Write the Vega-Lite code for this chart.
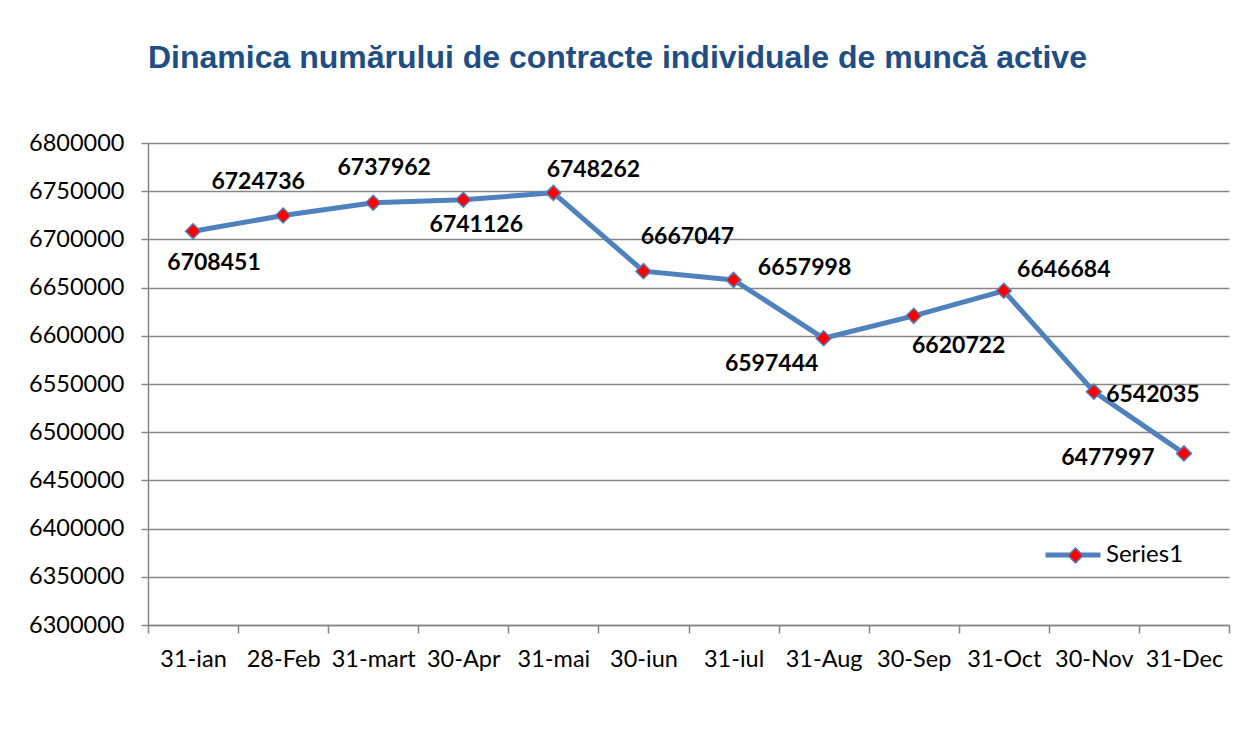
{
  "$schema": "https://vega.github.io/schema/vega-lite/v6.json",
  "autosize": {"type": "none"},
  "width": 1081,
  "height": 482,
  "padding": {"left": 148, "top": 143, "right": 7, "bottom": 104},
  "background": "white",
  "config": {
    "view": {"stroke": null},
    "font": "Lato",
    "legend": {"padding": 0}
  },
  "title": {
    "text": "Dinamica numărului de contracte individuale de muncă active",
    "anchor": "start",
    "frame": "group",
    "font": "Liberation Sans",
    "fontSize": 32,
    "fontWeight": "bold",
    "color": "#1F4E85",
    "offset": 56
  },
  "data": {
    "values": [
      {"m": "31-ian", "v": 6708451, "s": "Series1"},
      {"m": "28-Feb", "v": 6724736, "s": "Series1"},
      {"m": "31-mart", "v": 6737962, "s": "Series1"},
      {"m": "30-Apr", "v": 6741126, "s": "Series1"},
      {"m": "31-mai", "v": 6748262, "s": "Series1"},
      {"m": "30-iun", "v": 6667047, "s": "Series1"},
      {"m": "31-iul", "v": 6657998, "s": "Series1"},
      {"m": "31-Aug", "v": 6597444, "s": "Series1"},
      {"m": "30-Sep", "v": 6620722, "s": "Series1"},
      {"m": "31-Oct", "v": 6646684, "s": "Series1"},
      {"m": "30-Nov", "v": 6542035, "s": "Series1"},
      {"m": "31-Dec", "v": 6477997, "s": "Series1"}
    ]
  },
  "encoding": {
    "x": {
      "field": "m", "type": "ordinal", "sort": null,
      "scale": {"type": "band", "paddingInner": 0, "paddingOuter": 0},
      "axis": {
        "title": null, "labelAngle": 0, "tickBand": "extent",
        "labelFont": "Lato", "labelFontSize": 23.5, "labelColor": "black",
        "labelPadding": 14, "tickSize": 8, "tickColor": "#868686", "tickWidth": 1.5,
        "domainColor": "#868686", "domainWidth": 1.5, "grid": false
      }
    },
    "y": {
      "field": "v", "type": "quantitative",
      "scale": {"domain": [6300000, 6800000], "nice": false, "zero": false},
      "axis": {
        "title": null, "format": "d",
        "values": [6300000, 6350000, 6400000, 6450000, 6500000, 6550000, 6600000, 6650000, 6700000, 6750000, 6800000],
        "labelFont": "Lato", "labelFontSize": 23.5, "labelColor": "black",
        "labelPadding": 17, "tickSize": 7, "tickColor": "#868686", "tickWidth": 1.5,
        "domainColor": "#868686", "domainWidth": 1.5,
        "grid": true, "gridColor": "#868686", "gridWidth": 1.5
      }
    }
  },
  "layer": [
    {
      "mark": {"type": "line", "strokeWidth": 5},
      "encoding": {
        "color": {
          "field": "s", "type": "nominal",
          "scale": {"range": ["#4F81BD"]},
          "legend": {
            "title": null, "orient": "none", "legendX": 895, "legendY": 382,
            "symbolType": "stroke", "symbolSize": 3025, "symbolStrokeWidth": 5,
            "labelFont": "Lato", "labelFontSize": 24, "labelColor": "black", "labelOffset": 3
          }
        }
      }
    },
    {
      "mark": {"type": "point", "shape": "diamond", "filled": true, "size": 225, "stroke": "#4F81BD", "strokeWidth": 1.5, "opacity": 1},
      "encoding": {
        "fill": {
          "field": "s", "type": "nominal",
          "scale": {"range": ["#FF0000"]},
          "legend": {
            "title": null, "orient": "none", "legendX": 919, "legendY": 404,
            "symbolType": "diamond", "symbolSize": 225, "symbolStrokeWidth": 1.5, "symbolStrokeColor": "#4F81BD",
            "symbolOpacity": 1, "labelExpr": "''", "labelFontSize": 1
          }
        }
      }
    },
    {"transform": [{"filter": "datum.m == '31-ian'"}], "mark": {"type": "text", "dx": 21, "dy": 32, "font": "Lato", "fontSize": 23, "fontWeight": "bold", "color": "black"}, "encoding": {"text": {"field": "v", "type": "quantitative", "format": "d"}}},
    {"transform": [{"filter": "datum.m == '28-Feb'"}], "mark": {"type": "text", "dx": -25, "dy": -34, "font": "Lato", "fontSize": 23, "fontWeight": "bold", "color": "black"}, "encoding": {"text": {"field": "v", "type": "quantitative", "format": "d"}}},
    {"transform": [{"filter": "datum.m == '31-mart'"}], "mark": {"type": "text", "dx": 11, "dy": -35, "font": "Lato", "fontSize": 23, "fontWeight": "bold", "color": "black"}, "encoding": {"text": {"field": "v", "type": "quantitative", "format": "d"}}},
    {"transform": [{"filter": "datum.m == '30-Apr'"}], "mark": {"type": "text", "dx": 13, "dy": 25, "font": "Lato", "fontSize": 23, "fontWeight": "bold", "color": "black"}, "encoding": {"text": {"field": "v", "type": "quantitative", "format": "d"}}},
    {"transform": [{"filter": "datum.m == '31-mai'"}], "mark": {"type": "text", "dx": 40, "dy": -23, "font": "Lato", "fontSize": 23, "fontWeight": "bold", "color": "black"}, "encoding": {"text": {"field": "v", "type": "quantitative", "format": "d"}}},
    {"transform": [{"filter": "datum.m == '30-iun'"}], "mark": {"type": "text", "dx": 44, "dy": -34, "font": "Lato", "fontSize": 23, "fontWeight": "bold", "color": "black"}, "encoding": {"text": {"field": "v", "type": "quantitative", "format": "d"}}},
    {"transform": [{"filter": "datum.m == '31-iul'"}], "mark": {"type": "text", "dx": 71, "dy": -12, "font": "Lato", "fontSize": 23, "fontWeight": "bold", "color": "black"}, "encoding": {"text": {"field": "v", "type": "quantitative", "format": "d"}}},
    {"transform": [{"filter": "datum.m == '31-Aug'"}], "mark": {"type": "text", "dx": -52, "dy": 26, "font": "Lato", "fontSize": 23, "fontWeight": "bold", "color": "black"}, "encoding": {"text": {"field": "v", "type": "quantitative", "format": "d"}}},
    {"transform": [{"filter": "datum.m == '30-Sep'"}], "mark": {"type": "text", "dx": 45, "dy": 30, "font": "Lato", "fontSize": 23, "fontWeight": "bold", "color": "black"}, "encoding": {"text": {"field": "v", "type": "quantitative", "format": "d"}}},
    {"transform": [{"filter": "datum.m == '31-Oct'"}], "mark": {"type": "text", "dx": 60, "dy": -21, "font": "Lato", "fontSize": 23, "fontWeight": "bold", "color": "black"}, "encoding": {"text": {"field": "v", "type": "quantitative", "format": "d"}}},
    {"transform": [{"filter": "datum.m == '30-Nov'"}], "mark": {"type": "text", "dx": 59, "dy": 3, "font": "Lato", "fontSize": 23, "fontWeight": "bold", "color": "black"}, "encoding": {"text": {"field": "v", "type": "quantitative", "format": "d"}}},
    {"transform": [{"filter": "datum.m == '31-Dec'"}], "mark": {"type": "text", "dx": -76, "dy": 5, "font": "Lato", "fontSize": 23, "fontWeight": "bold", "color": "black"}, "encoding": {"text": {"field": "v", "type": "quantitative", "format": "d"}}}
  ]
}
